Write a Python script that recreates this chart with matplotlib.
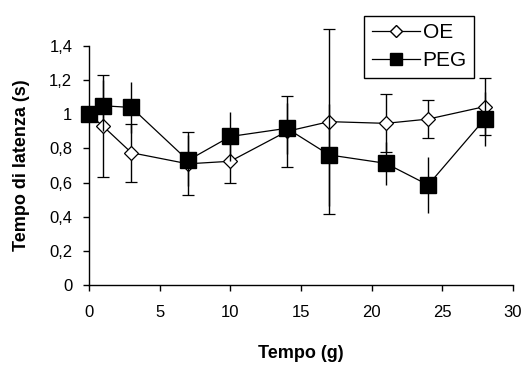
import matplotlib
matplotlib.use('Agg')
import matplotlib.pyplot as plt
from matplotlib.lines import Line2D

# days
giorni = [0, 1, 3, 7, 10, 14, 17, 21, 24, 28]
# OE series
oe_mean = [1.00, 0.93, 0.775, 0.71, 0.725, 0.90, 0.957, 0.947, 0.972, 1.045]
oe_err = [0.0, 0.30, 0.17, 0.185, 0.126, 0.21, 0.54, 0.17, 0.11, 0.165]
# PEG series
peg_mean = [1.00, 1.05, 1.04, 0.73, 0.87, 0.918, 0.762, 0.713, 0.586, 0.972]
peg_err = [0.0, 0.15, 0.15, 0.15, 0.145, 0.15, 0.30, 0.127, 0.165, 0.16]

y_ticks = [0, 0.2, 0.4, 0.6, 0.8, 1.0, 1.2, 1.4]
y_labels = ['0', '0,2', '0,4', '0,6', '0,8', '1', '1,2', '1,4']
x_ticks = [0, 5, 10, 15, 20, 25, 30]

plt.rcParams['font.family'] = ['Liberation Sans', 'DejaVu Sans']

fig = plt.figure(figsize=(5.31, 3.65), dpi=100)
ax = fig.add_axes([0.1676, 0.219, 0.7984, 0.655])

# OE bars have caps, PEG bars have none; PEG drawn on top
ax.errorbar(giorni, oe_mean, yerr=oe_err, color='black', lw=0.9, elinewidth=1.0,
            capsize=4, capthick=1.0, marker='D', ms=7.5, mfc='white', mec='black',
            mew=0.9, zorder=2, clip_on=False)
ax.errorbar(giorni, peg_mean, yerr=peg_err, color='black', lw=0.9, elinewidth=1.0,
            capsize=0, marker='s', ms=11, mfc='black', mec='black', zorder=3,
            clip_on=False)

ax.set_xlim(0, 30)
ax.set_ylim(0, 1.4)
ax.set_xticks(x_ticks)
ax.set_yticks(y_ticks)
ax.set_yticklabels(y_labels)
ax.tick_params(direction='out', length=4, width=1, labelsize=12, pad=8)
ax.tick_params(axis='x', pad=10)
for s in ['top', 'right']:
    ax.spines[s].set_visible(False)
for s in ['left', 'bottom']:
    ax.spines[s].set_linewidth(1.0)

ax.set_xlabel('Tempo (g)', fontsize=13, fontweight='bold', labelpad=18)
ax.set_ylabel('Tempo di latenza (s)', fontsize=13, fontweight='bold', labelpad=14)

h_oe = Line2D([], [], color='black', lw=0.9, marker='D', ms=6, mfc='white', mec='black')
h_peg = Line2D([], [], color='black', lw=0.9, marker='s', ms=8, mfc='black', mec='black')
leg = ax.legend([h_oe, h_peg], ['OE', 'PEG'], loc='upper left', bbox_to_anchor=(0.625, 1.17),
                fontsize=15, frameon=True, fancybox=False, edgecolor='black',
                handlelength=2.3, handletextpad=0.15, borderpad=0.35, labelspacing=0.45,
                framealpha=1)
leg.get_frame().set_linewidth(1.0)

fig.savefig('out.png', dpi=100)
